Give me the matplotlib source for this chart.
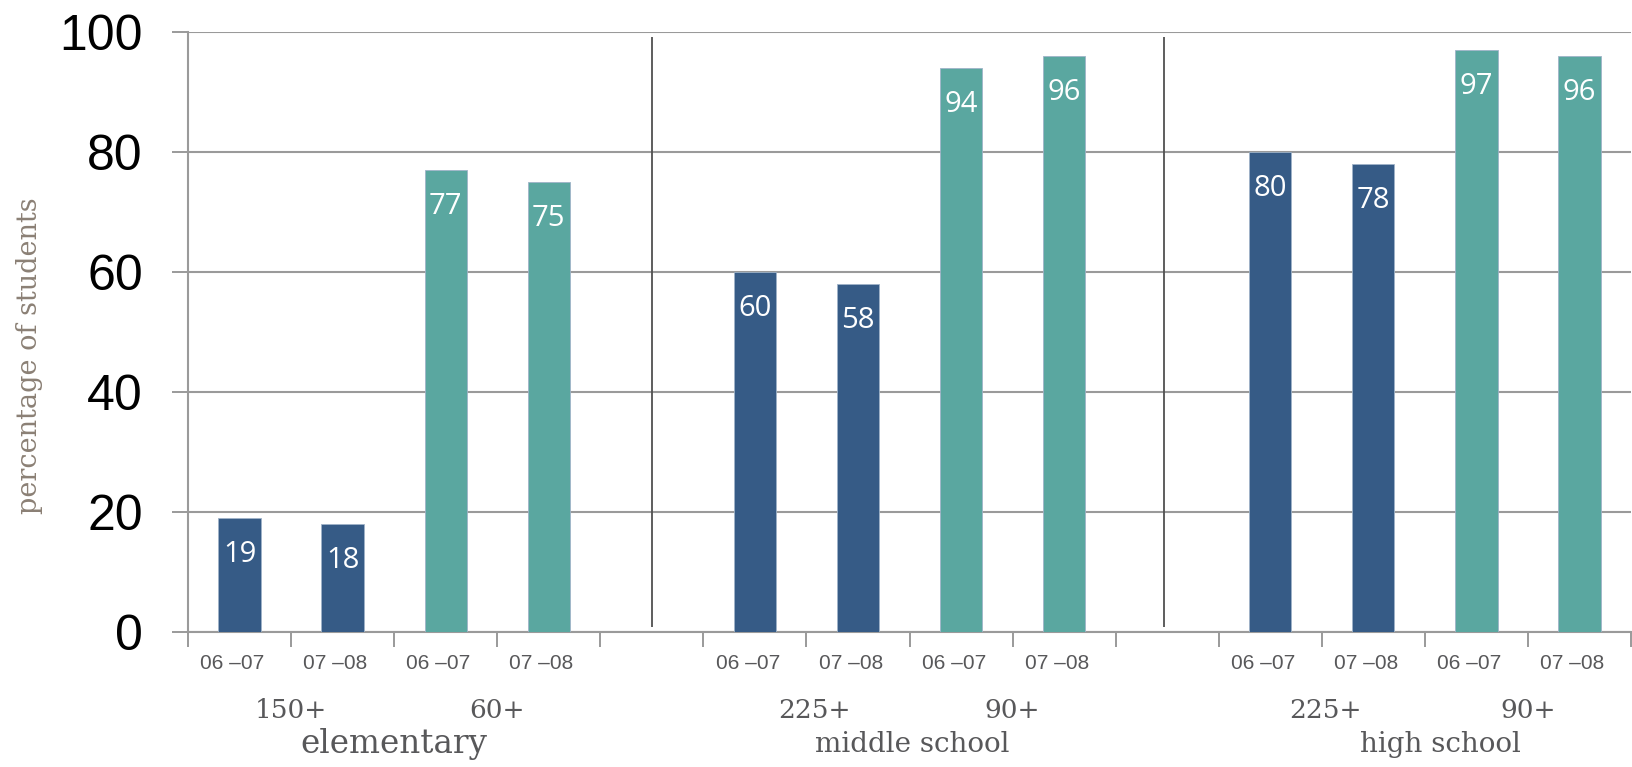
import numpy as np
import matplotlib.pyplot as plt

# data
groups = ["elementary", "middle school", "high school"]
subgroups = [["150+", "60+"], ["225+", "90+"], ["225+", "90+"]]
years = ["06 \u201307", "07 \u201308"]
elementary = [19, 18, 77, 75]
middle = [60, 58, 94, 96]
high = [80, 78, 97, 96]
values = [elementary, middle, high]

dark_blue = "#365b86"
teal = "#5aa7a0"
bar_colors = [dark_blue, dark_blue, teal, teal]
grid_gray = "#9a9a9a"
text_gray = "#58585a"

# layout of the slots (in slot units)
group_start = [0, 5, 10]
separators = [4.5, 9.47]
label_shift = [0, 0.03, 0.15]
group_fs = [23.5, 20, 20]
sub_shift = [[0, 0], [0.08, 0], [0.04, 0]]

fig = plt.figure(figsize=(16.32, 7.67), dpi=100)
ax = fig.add_axes([188 / 1632, 1 - 631.5 / 767, (1631 - 188) / 1632, 600 / 767])

ticks = []
for g, vals in enumerate(values):
    x0 = group_start[g]
    centers = x0 + np.arange(4) + 0.5
    bars = ax.bar(centers, vals, width=0.41, color=bar_colors,
                  edgecolor="#9fb3c8", linewidth=0.6, zorder=3)
    for b, v in zip(bars, vals):
        ax.annotate(str(v), (b.get_x() + b.get_width() / 2, v), xytext=(0, -37),
                    textcoords="offset pixels", ha="center", va="center",
                    color="white", fontsize=21, family="Open Sans", zorder=4)
    ticks += list(x0 + np.arange(5))
    # year labels under each bar
    for i, c in enumerate(centers):
        ax.text(c - 0.07, -5.3, years[i % 2], ha="center", va="center", fontsize=15,
                color=text_gray, family=["Liberation Sans Narrow", "Liberation Sans"],
                stretch="condensed")
    # subgroup labels
    for k, s in enumerate(subgroups[g]):
        ax.text(x0 + 1 + 2 * k + sub_shift[g][k], -13.2, s, ha="center", va="center",
                fontsize=19, color=text_gray, family="DejaVu Serif")
    ax.text(x0 + 2 + label_shift[g], -18.8, groups[g], ha="center",
            va="center", fontsize=group_fs[g], color=text_gray, family="DejaVu Serif")

for s in separators:
    ax.vlines(s, 0.75, 99.1, color="#505050", linewidth=1.3, zorder=2)

ax.set_xlim(0, 14)
ax.set_ylim(0, 100)
ax.set_xticks(ticks)
ax.set_xticklabels([])
ax.set_yticks(np.arange(0, 101, 20))
ax.set_yticklabels([str(t) for t in range(0, 101, 20)], fontsize=36,
                   family="Liberation Sans")
ax.tick_params(axis="y", length=11.5, width=1.4, color=grid_gray, pad=21)
ax.tick_params(axis="x", length=11, width=1.4, color=grid_gray)
ax.grid(axis="y", color=grid_gray, linewidth=1.5, zorder=0)
for side in ["top", "right"]:
    ax.spines[side].set_visible(False)
for side in ["left", "bottom"]:
    ax.spines[side].set_color(grid_gray)
    ax.spines[side].set_linewidth(1.5)

fig.text(30 / 1632, 1 - 356 / 767, "percentage of students", rotation=90,
         ha="center", va="center", fontsize=19.5, color="#8b8075",
         family="DejaVu Serif")

fig.savefig("out.png", dpi=100)
